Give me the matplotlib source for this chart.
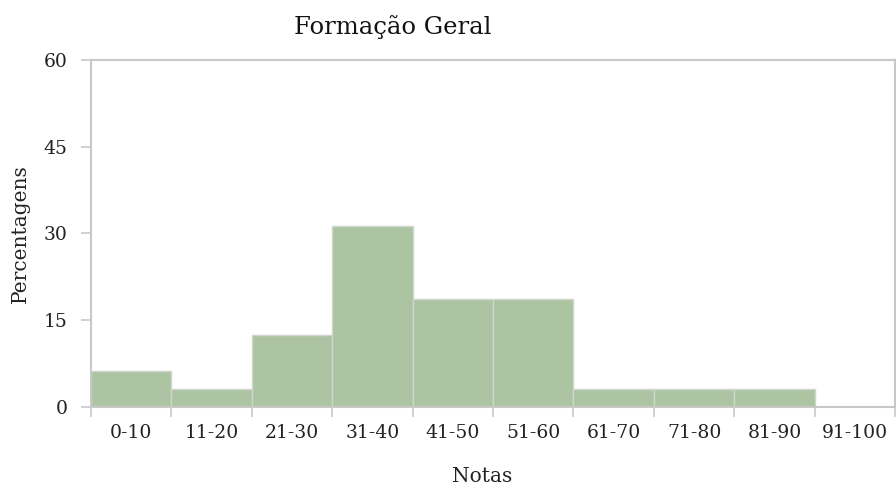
import matplotlib.pyplot as plt
import numpy as np

plt.rcParams['font.family'] = ['DejaVu Serif']

faixas = ['0-10', '11-20', '21-30', '31-40', '41-50', '51-60',
          '61-70', '71-80', '81-90', '91-100']
percentagens = [6.25, 3.125, 12.5, 31.25, 18.75, 18.75, 3.125, 3.125, 3.125, 0]

cinza = '#c8c8c8'
texto = '#222222'

fig = plt.figure(figsize=(8.96, 4.86), dpi=100)
ax = fig.add_axes([0.1016, 0.1626, 0.8974, 0.7139])

pos = np.arange(len(faixas))
ax.bar(pos, percentagens, width=1, align='edge', color='#adc4a3',
       edgecolor='#cfd6cb', linewidth=1)

ax.set_xlim(0, len(faixas))
ax.set_ylim(0, 60)
ax.set_yticks([0, 15, 30, 45, 60])

# ticks nas bordas das classes, rótulos no meio
ax.set_xticks(np.arange(len(faixas) + 1))
ax.set_xticklabels([])
ax.set_xticks(pos + 0.5, minor=True)
ax.set_xticklabels(faixas, minor=True)
ax.tick_params(axis='x', which='minor', length=0, pad=12, labelsize=13.5, colors=texto)
ax.tick_params(axis='x', which='major', length=7, color=cinza, width=1.2)
ax.tick_params(axis='y', length=7, color=cinza, width=1.2, labelsize=13.5,
               labelcolor=texto, pad=10)

for s in ax.spines.values():
    s.set_color(cinza)
    s.set_linewidth(1.5)

ax.set_xlabel('Notas', fontsize=14.5, color=texto, va='center')
ax.xaxis.set_label_coords(0.486, -0.199)
ax.set_ylabel('Percentagens', fontsize=14.5, color=texto, va='center')
ax.yaxis.set_label_coords(-0.088, 0.5)
fig.text(0.4386, 0.944, 'Formação Geral', fontsize=17.5, ha='center', va='center', color='#111111')

fig.savefig('out.png', dpi=100)
